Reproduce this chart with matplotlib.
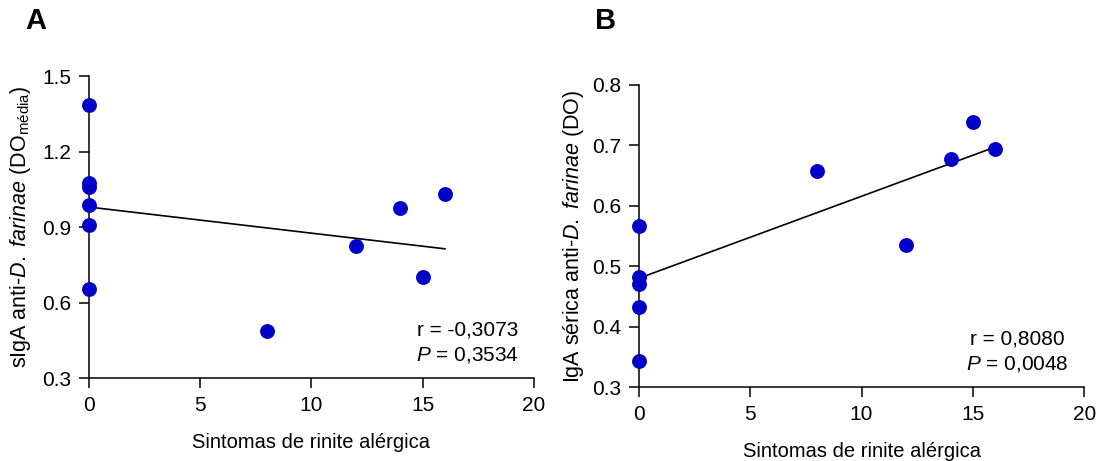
import numpy as np
import matplotlib
matplotlib.use("Agg")
import matplotlib.pyplot as plt

plt.rcParams['font.family'] = ['Liberation Sans', 'DejaVu Sans']
plt.rcParams['mathtext.fontset'] = 'custom'
plt.rcParams['mathtext.rm'] = 'Liberation Sans'
plt.rcParams['mathtext.it'] = 'Liberation Sans:italic'
plt.rcParams['mathtext.bf'] = 'Liberation Sans:bold'

# Panel A data
xA = [0, 0, 0, 0, 0, 0, 8, 12, 14, 15, 16]
yA = [1.383, 1.075, 1.059, 0.986, 0.909, 0.654, 0.489, 0.824, 0.978, 0.703, 1.030]
fitA_x = [0, 16]
fitA_y = [0.980, 0.814]
statsA = ["r = -0,3073", "$\\mathit{P}$ = 0,3534"]

# Panel B data
xB = [0, 0, 0, 0, 0, 8, 12, 14, 15, 16]
yB = [0.567, 0.483, 0.471, 0.433, 0.343, 0.658, 0.535, 0.677, 0.739, 0.693]
fitB_x = [0, 16]
fitB_y = [0.480, 0.697]
statsB = ["r = 0,8080", "$\\mathit{P}$ = 0,0048"]

xlabel = "Sintomas de rinite alérgica"
ylabelA = "sIgA anti-$\\mathit{D.\\ farinae}$ (DO$_{\\mathrm{média}}$)"
ylabelB = "IgA sérica anti-$\\mathit{D.\\ farinae}$ (DO)"
xticks = [0, 5, 10, 15, 20]
yticksA = [0.3, 0.6, 0.9, 1.2, 1.5]
yticksB = [0.3, 0.4, 0.5, 0.6, 0.7, 0.8]

dot_color = '#0000c8'
fs = 15

fig = plt.figure(figsize=(11.04, 4.61), dpi=100)
axA = fig.add_axes([0.0803, 0.1794, 0.4034, 0.6557])
axB = fig.add_axes([0.5785, 0.1599, 0.4037, 0.6564])


def draw(ax, x, y, fx, fy, yticks, ylabel, stats, stat_pos, ylabelx):
    ax.plot(fx, fy, color='black', lw=1.2, zorder=2)
    ax.scatter(x, y, s=115, color=dot_color, zorder=3, clip_on=False, linewidths=0)
    ax.set_xlim(0, 20)
    ax.set_ylim(yticks[0], yticks[-1])
    ax.set_xticks(xticks)
    ax.set_yticks(yticks)
    ax.set_yticklabels([f"{t:.1f}" for t in yticks])
    for s in ['top', 'right']:
        ax.spines[s].set_visible(False)
    for s in ['left', 'bottom']:
        ax.spines[s].set_linewidth(1.1)
    ax.tick_params(axis='both', direction='out', length=7.5, width=1.1,
                   labelsize=fs, pad=5)
    ax.set_xlabel(xlabel, fontsize=14.5, labelpad=13)
    ax.set_ylabel(ylabel, fontsize=15.5)
    ax.yaxis.set_label_coords(ylabelx, 0.5)
    ax.text(stat_pos[0], stat_pos[1], stats[0] + "\n" + stats[1],
            transform=ax.transData, ha='center', va='center', fontsize=fs,
            linespacing=1.35, multialignment='center')


draw(axA, xA, yA, fitA_x, fitA_y, yticksA, ylabelA, statsA, (17.0, 0.44), -0.124)
draw(axB, xB, yB, fitB_x, fitB_y, yticksB, ylabelB, statsB, (17.0, 0.359), -0.118)

fig.text(36 / 1104, 1 - 21 / 461, "A", fontsize=21, fontweight='bold', ha='center', va='center')
fig.text(606 / 1104, 1 - 21 / 461, "B", fontsize=21, fontweight='bold', ha='center', va='center')

fig.savefig("out.png", dpi=100)
